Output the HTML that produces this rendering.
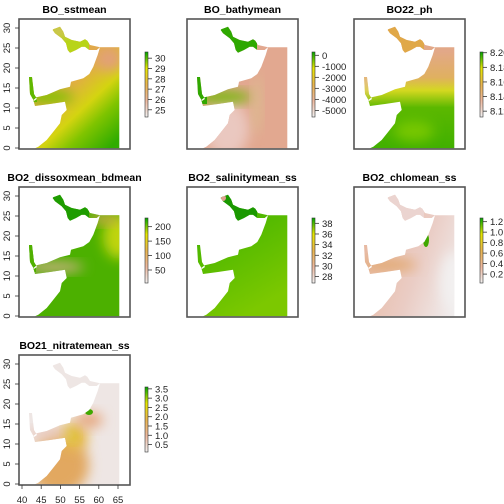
<!DOCTYPE html>
<html><head><meta charset="utf-8"><style>
html,body{margin:0;padding:0;background:#fff}
svg{display:block;font-family:"Liberation Sans",Arial,sans-serif}
</style></head><body>
<svg id="c" width="504" height="504" viewBox="0 0 504 504" xmlns="http://www.w3.org/2000/svg">
<defs>
<filter id="bl" x="-50%" y="-50%" width="200%" height="200%"><feGaussianBlur stdDeviation="6"/></filter>
<clipPath id="sea" clipPathUnits="userSpaceOnUse">
<path d="M16,129.3 L100.3,129.3 L100.3,28.3 L81,28.3 L78.7,36 L74.3,47.7 L70.3,55 L64.3,59.3 L52,62.7 L51,67.7 L41,70.3 L27.7,76 L17.7,78.3 L14.3,81 L16,87 L31,85 L46,82.7 L47.7,91 L42.7,96 L41,104.3 L34.3,112.7 L27.7,121 L19.3,127.7 Z
M10,58 L13,58 L15,75 L18,80 L15,82 L11,75 Z
M34.3,10.3 L41,7.7 L44.3,12.7 L46,17.7 L52.7,21 L61,22.7 L66,20.3 L68.3,21.7 L71,26 L81,28.3 L77.7,31 L70.3,31 L66,27.7 L62.7,27.7 L57,31 L51,33.7 L48.7,31 L47,24.3 L42.7,19.3 L36,14.3 L33.7,11 Z"/>
</clipPath>
<linearGradient id="terr" x1="0" y1="1" x2="0" y2="0">
<stop offset="0" stop-color="#F2F2F2"/><stop offset="0.25" stop-color="#EEB99F"/><stop offset="0.5" stop-color="#EAB64E"/><stop offset="0.75" stop-color="#E6E600"/><stop offset="1" stop-color="#00A600"/>
</linearGradient>
<linearGradient id="g1" x1="0" y1="0" x2="0.8" y2="1">
<stop offset="0" stop-color="#E4A070"/><stop offset="0.3" stop-color="#E2A050"/><stop offset="0.55" stop-color="#E0B040"/><stop offset="0.7" stop-color="#D4D410"/><stop offset="0.82" stop-color="#80C400"/><stop offset="1" stop-color="#30AC00"/>
</linearGradient>
<linearGradient id="g3" x1="0" y1="0" x2="0" y2="1">
<stop offset="0.25" stop-color="#E2A888"/><stop offset="0.45" stop-color="#E0B060"/><stop offset="0.55" stop-color="#D4D820"/><stop offset="0.68" stop-color="#5CB800"/><stop offset="1" stop-color="#40B000"/>
</linearGradient>
<linearGradient id="g5" x1="0" y1="0" x2="0.5" y2="1">
<stop offset="0" stop-color="#2EAC00"/><stop offset="1" stop-color="#7CC800"/>
</linearGradient>
<linearGradient id="g6" x1="0" y1="0.3" x2="1" y2="0.7">
<stop offset="0" stop-color="#E6B498"/><stop offset="0.6" stop-color="#EACCC4"/><stop offset="1" stop-color="#F0ECEC"/>
</linearGradient>
</defs>
<g id="panels"></g>
</svg>
<script>
const titles = ["BO_sstmean","BO_bathymean","BO22_ph","BO2_dissoxmean_bdmean","BO2_salinitymean_ss","BO2_chlomean_ss","BO21_nitratemean_ss"];
const legendLabels = [["30","29","28","27","26","25"],["0","-1000","-2000","-3000","-4000","-5000"],["8.20","8.18","8.16","8.14","8.12"],["200","150","100","50"],["38","36","34","32","30","28"],["1.2","1.0","0.8","0.6","0.4","0.2"],["3.5","3.0","2.5","2.0","1.5","1.0","0.5"]];
const legendValues = [[30,29,28,27,26,25],[0,-1000,-2000,-3000,-4000,-5000],[8.20,8.18,8.16,8.14,8.12],[200,150,100,50],[38,36,34,32,30,28],[1.2,1.0,0.8,0.6,0.4,0.2],[3.5,3.0,2.5,2.0,1.5,1.0,0.5]];
const legendRange = [[24.3,30.6],[-5600,300],[8.112,8.201],[5,230],[26.8,39],[0.03,1.27],[0.1,3.6]];
const latTicks = [0,5,10,15,20,25,30];
const lonTicks = [40,45,50,55,60,65];
const origins = [[19,19],[187,19],[354,19],[19,187],[187,187],[354,187],[19,355]];
const NS="http://www.w3.org/2000/svg";
const W=111,H=130;
const latY = v => 129 - v*4;
const lonX = v => 3 + (v-40)*3.84;
function el(t,a,p){const e=document.createElementNS(NS,t);for(const k in a)e.setAttribute(k,a[k]);p.appendChild(e);return e;}
const root=document.getElementById('panels');
const fills=[
 [["rect",{x:0,y:0,width:W,height:H,fill:"url(#g1)"}],["ellipse",{cx:90,cy:40,rx:14,ry:12,fill:"#E2A078",f:1}],["rect",{x:0,y:0,width:70,height:34,fill:"#B8D418"}],["ellipse",{cx:40,cy:12,rx:7,ry:5,fill:"#E8B0A0",f:1}],["ellipse",{cx:30,cy:78,rx:25,ry:7,fill:"#80C200",f:1}],["rect",{x:0,y:55,width:18,height:28,fill:"#60B800"}]],
 [["rect",{x:0,y:0,width:W,height:H,fill:"#E2A890"}],["ellipse",{cx:40,cy:110,rx:22,ry:28,fill:"#EAC8C0",f:1}],["rect",{x:0,y:0,width:70,height:34,fill:"#2EA800"}],["ellipse",{cx:35,cy:78,rx:30,ry:6,fill:"#70B800",f:1}],["rect",{x:0,y:55,width:20,height:30,fill:"#30A800"}],["ellipse",{cx:70,cy:85,rx:4,ry:30,fill:"#DCC090",f:1}]],
 [["rect",{x:0,y:0,width:W,height:H,fill:"url(#g3)"}],["rect",{x:0,y:0,width:70,height:34,fill:"#E0A848"}],["ellipse",{cx:14,cy:65,rx:5,ry:10,fill:"#EAC0B0",f:1}],["ellipse",{cx:60,cy:112,rx:20,ry:10,fill:"#78C800",f:1}]],
 [["rect",{x:0,y:0,width:W,height:H,fill:"#4CB000"}],["ellipse",{cx:100,cy:50,rx:16,ry:22,fill:"#C0D410",f:1}],["ellipse",{cx:85,cy:32,rx:16,ry:5,fill:"#D8A850",f:1}],["ellipse",{cx:35,cy:80,rx:30,ry:5,fill:"#D8B090",f:1}],["rect",{x:0,y:0,width:70,height:34,fill:"#1E9C00"}],["rect",{x:0,y:40,width:17,height:45,fill:"#50B000"}]],
 [["rect",{x:0,y:0,width:W,height:H,fill:"url(#g5)"}],["rect",{x:0,y:0,width:70,height:34,fill:"#1A9800"}],["ellipse",{cx:36,cy:11,rx:3,ry:3,fill:"#E0A090",f:0}]],
 [["rect",{x:0,y:0,width:W,height:H,fill:"url(#g6)"}],["rect",{x:0,y:0,width:70,height:34,fill:"#EBD4D0"}],["ellipse",{cx:35,cy:78,rx:28,ry:6,fill:"#E2A870",f:1}],["ellipse",{cx:72,cy:53,rx:3,ry:7,fill:"#40A800",f:0}],["ellipse",{cx:100,cy:95,rx:14,ry:30,fill:"#F2F0F0",f:1}]],
 [["rect",{x:0,y:0,width:W,height:H,fill:"#EEE6E4"}],["ellipse",{cx:40,cy:110,rx:30,ry:30,fill:"#E2A860",f:1}],["ellipse",{cx:55,cy:82,rx:14,ry:14,fill:"#E6B848",f:1}],["ellipse",{cx:52,cy:80,rx:6,ry:6,fill:"#D8D020",f:1}],["ellipse",{cx:70,cy:65,rx:14,ry:8,fill:"#E6A880",f:1}],["ellipse",{cx:70,cy:57,rx:4,ry:3,fill:"#40A800",f:0}],["ellipse",{cx:30,cy:78,rx:22,ry:5,fill:"#E8C4B8",f:1}]]
];
const legendBarY=[52,52,52,218,218,218,387];
titles.forEach((t,i)=>{
 const [ox,oy]=origins[i];
 const g=el('g',{transform:`translate(${ox},${oy})`},root);
 
 
 const tt=el('text',{x:W/2,y:-6,'text-anchor':'middle','font-size':'10.5','font-weight':'bold',fill:'#000'},g);
 tt.textContent=t;
 
 
 const r=el('g',{'clip-path':'url(#sea)'},g);
 
 
 fills[i].forEach(([tp,a])=>{const o=Object.assign({},a);const f=o.f;delete o.f;if(f)o.filter='url(#bl)';el(tp,o,r);});
 const bx=el('rect',{x:0,y:0,width:W,height:H,fill:'none',stroke:'#555','stroke-width':'1.6'},g);
 
 
 const lx=(i%3===0?145:(i%3===1?312:480))-ox;
 const ly=legendBarY[i]-oy;
 const lg=el('g',{},g);
 
 
 el('rect',{x:lx,y:ly,width:3,height:65,fill:'url(#terr)',stroke:'#333','stroke-width':'0.6'},lg);
 const [lo,hi]=legendRange[i];
 legendValues[i].forEach((v,k)=>{
  const y=ly+65-(v-lo)/(hi-lo)*65;
  el('line',{x1:lx+3,x2:lx+7,y1:y,y2:y,stroke:'#333','stroke-width':'0.8'},lg);
  const lt=el('text',{x:lx+10,y:y+3.5,'font-size':'9.5',fill:'#222'},lg);
  lt.textContent=legendLabels[i][k];
  
  
 });
 if(i%3===0){
  const ya=el('g',{},g);
  
  
  latTicks.forEach(v=>{const y=latY(v);
   el('line',{x1:-4,x2:0,y1:y,y2:y,stroke:'#333','stroke-width':'0.8'},ya);
   const tx=el('text',{x:-9,y:y,'font-size':'9.5',fill:'#222','text-anchor':'middle',transform:`rotate(-90 -9 ${y})`},ya);
   tx.textContent=v;
   
   
  });
 }
 if(i===6){
  const xa=el('g',{},g);
  
  
  lonTicks.forEach(v=>{const x=lonX(v);
   el('line',{x1:x,x2:x,y1:H,y2:H+4,stroke:'#333','stroke-width':'0.8'},xa);
   const tx=el('text',{x:x,y:H+18,'font-size':'9.5',fill:'#222','text-anchor':'middle'},xa);
   tx.textContent=v;
   
   
  });
 }
});
</script>
</body></html>
